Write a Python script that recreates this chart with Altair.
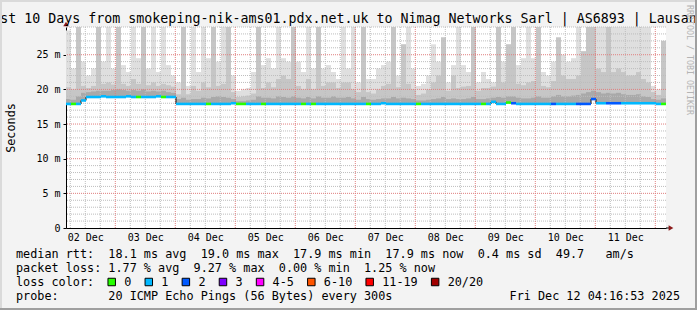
import altair as alt
import pandas as pd

# ---------------- data ----------------
# time in hours since 02 Dec 00:00; graph spans 10 days ending Fri Dec 12 04:16:53
T0 = 4 + 16 / 60 + 53 / 3600
SPAN = 240.0
BIN = 2.0

day_labels = ["02 Dec", "03 Dec", "04 Dec", "05 Dec", "06 Dec",
              "07 Dec", "08 Dec", "09 Dec", "10 Dec", "11 Dec"]

median_rtt = [
    17.9, 17.9, 17.9, 18.4, 18.9, 18.9, 18.9, 19.0, 18.9, 18.9, 18.9, 18.9, 19.0, 18.9, 18.9, 18.9, 18.9, 18.9, 19.0, 18.9,
    18.9, 18.9, 17.9, 17.9, 17.9, 17.9, 17.9, 17.9, 17.9, 17.9, 17.9, 17.9, 17.9, 18.0, 17.9, 17.9, 17.9, 17.9, 17.9, 17.9,
    17.9, 17.9, 17.9, 17.9, 17.9, 17.9, 17.9, 17.9, 17.9, 17.9, 17.9, 17.9, 17.9, 17.9, 17.9, 17.9, 17.9, 17.9, 17.9, 17.9,
    17.9, 17.9, 17.9, 18.0, 17.9, 17.9, 17.9, 17.9, 17.9, 17.9, 17.9, 17.9, 17.9, 17.9, 17.9, 17.9, 17.9, 17.9, 17.9, 17.9,
    17.9, 17.9, 17.9, 17.9, 17.9, 18.2, 17.9, 17.9, 18.1, 18.0, 17.9, 17.9, 17.9, 17.9, 17.9, 17.9, 17.9, 17.9, 17.9, 17.9,
    17.9, 17.9, 17.9, 17.9, 17.9, 18.6, 18.0, 18.0, 18.0, 18.0, 18.0, 18.0, 18.0, 18.0, 18.0, 18.0, 18.0, 18.0, 17.9, 17.9,
]

loss_count = [
    1, 0, 1, 1, 1, 1, 1, 1, 1, 1, 1, 1, 1, 1, 0, 1, 1, 1, 1, 0,
    1, 1, 1, 1, 1, 1, 1, 1, 0, 1, 1, 1, 1, 1, 0, 0, 1, 1, 1, 0,
    1, 1, 1, 1, 1, 1, 1, 0, 1, 0, 1, 1, 1, 1, 1, 1, 1, 1, 1, 1,
    0, 1, 1, 1, 1, 1, 1, 1, 1, 1, 0, 1, 1, 1, 1, 1, 1, 1, 1, 1,
    1, 1, 1, 0, 1, 1, 1, 1, 0, 2, 1, 1, 1, 1, 1, 1, 1, 2, 1, 1,
    1, 1, 2, 2, 2, 2, 1, 1, 2, 2, 2, 1, 1, 1, 1, 1, 1, 1, 1, 0,
]

smoke_upper = [
    28.5, 23.0, 29.5, 24.0, 22.0, 23.0, 29.5, 24.0, 29.0, 23.0, 29.5, 23.5, 22.5, 29.5, 24.5, 29.5, 23.0, 29.5, 22.5, 29.0,
    23.5, 22.0, 21.0, 29.5, 20.5, 29.5, 22.5, 29.5, 24.5, 29.5, 24.0, 29.5, 29.5, 22.0, 19.8, 20.0, 20.2, 22.5, 29.5, 23.5,
    24.5, 23.0, 29.5, 24.5, 24.0, 29.5, 24.0, 22.5, 29.5, 23.0, 29.5, 23.0, 23.5, 22.5, 21.5, 29.5, 23.0, 29.5, 21.0, 29.5,
    21.5, 21.5, 23.0, 23.5, 24.0, 29.5, 22.0, 26.5, 29.5, 23.0, 20.5, 20.8, 22.0, 26.5, 24.0, 27.5, 21.0, 23.5, 29.5, 23.5,
    22.5, 29.5, 21.0, 22.5, 21.5, 21.0, 29.5, 24.0, 26.5, 29.5, 23.5, 24.5, 29.5, 24.5, 29.5, 22.5, 22.0, 24.0, 27.5, 25.0,
    24.0, 24.5, 29.5, 25.5, 29.5, 29.5, 29.5, 29.5, 29.5, 29.5, 29.5, 29.5, 29.5, 29.5, 29.5, 29.5, 29.5, 20.5, 20.0, 27.0,
]

smoke_middle = [
    20.3, 20.0, 29.5, 20.5, 20.2, 20.5, 29.5, 20.8, 21.0, 20.7, 29.5, 20.8, 20.5, 21.5, 20.8, 29.5, 20.6, 21.0, 20.5, 20.8,
    20.6, 20.4, 19.3, 29.5, 19.3, 20.5, 19.8, 21.0, 20.3, 29.5, 20.5, 20.8, 29.0, 19.6, 18.9, 19.0, 19.1, 19.4, 29.5, 20.2,
    21.0, 20.3, 21.5, 22.0, 21.5, 29.5, 20.5, 20.0, 21.5, 20.0, 29.5, 20.5, 21.0, 21.0, 20.2, 21.0, 21.0, 20.0, 19.6, 29.5,
    19.6, 19.4, 20.0, 20.5, 20.8, 29.5, 20.3, 26.5, 20.8, 20.0, 19.2, 19.4, 20.0, 21.0, 22.0, 27.5, 19.8, 22.0, 20.2, 20.4,
    20.5, 29.5, 19.8, 20.2, 20.2, 20.4, 29.5, 21.0, 26.5, 29.5, 20.8, 20.6, 21.0, 21.2, 29.5, 20.5, 20.3, 21.2, 27.5, 22.0,
    21.5, 21.5, 22.0, 25.5, 29.5, 29.5, 23.0, 22.5, 29.5, 22.5, 23.0, 22.5, 22.0, 22.0, 22.5, 21.5, 21.0, 19.6, 19.2, 27.0,
]

smoke_inner = [
    18.6, 18.5, 19.0, 19.5, 19.6, 19.7, 19.8, 19.8, 19.8, 19.9, 20.0, 19.9, 19.8, 19.9, 19.8, 20.0, 19.7, 19.8, 19.7, 19.8,
    19.6, 19.5, 18.6, 18.8, 18.5, 18.6, 18.6, 18.8, 18.7, 18.9, 19.0, 18.9, 18.8, 18.6, 18.3, 18.3, 18.4, 18.5, 19.0, 18.8,
    18.8, 18.7, 19.0, 18.9, 18.8, 19.0, 18.8, 18.7, 18.9, 18.7, 19.0, 18.8, 18.8, 19.0, 18.8, 18.8, 18.9, 18.7, 18.5, 18.9,
    18.6, 18.5, 18.6, 18.7, 18.7, 18.9, 18.7, 18.8, 18.7, 18.6, 18.4, 18.4, 18.5, 18.6, 18.7, 18.9, 18.6, 18.7, 18.6, 18.6,
    18.7, 18.9, 18.6, 18.6, 18.7, 18.8, 18.9, 18.8, 19.0, 19.0, 18.8, 18.7, 18.7, 18.8, 19.0, 18.8, 18.8, 19.0, 19.2, 19.0,
    19.0, 19.1, 19.2, 19.4, 19.6, 19.8, 19.6, 19.4, 19.5, 19.4, 19.5, 19.3, 19.2, 19.2, 19.3, 19.0, 18.9, 18.6, 18.5, 18.7,
]

loss_labels = ["0", "1", "2", "3", "4-5", "6-10", "11-19", "20/20"]
loss_colors = ["#26ff00", "#00b8ff", "#0059ff", "#7e00ff",
               "#ff00ff", "#ff5500", "#ff0000", "#a10000"]

title_text = ("Last 10 Days from smokeping-nik-ams01.pdx.net.uk to "
              "Nimag Networks Sarl | AS6893 | Lausanne")
line_rtt = "median rtt:  18.1 ms avg  19.0 ms max  17.9 ms min  17.9 ms now  0.4 ms sd  49.7   am/s"
line_loss = "packet loss: 1.77 % avg  9.27 % max  0.00 % min  1.25 % now"
line_color = "loss color:"
line_probe = "probe:       20 ICMP Echo Pings (56 Bytes) every 300s"
line_date = "Fri Dec 12 04:16:53 2025"
credit = "RRDTOOL / TOBI OETIKER"

# ---------------- build tables ----------------
def bucket(n):
    if n <= 3:
        return str(n)
    if n <= 5:
        return "4-5"
    if n <= 10:
        return "6-10"
    if n <= 19:
        return "11-19"
    return "20/20"

times = [T0 + BIN * i for i in range(len(median_rtt))]
df = pd.DataFrame({
    "t": times,
    "t_end": [t + BIN for t in times],
    "median": median_rtt,
    "loss": [bucket(n) for n in loss_count],
    "upper": smoke_upper,
    "middle": smoke_middle,
    "inner": smoke_inner,
})

T_END = T0 + SPAN
YMAX = 29
MONO = "DejaVu Sans Mono"
NB = "\u00a0"
CHAR = 7.09          # advance of one legend character (px)

minor_y = [v for v in range(1, YMAX + 1) if v % 5 != 0]
major_y = [v for v in range(5, YMAX + 1, 5)]
minor_x = [h for h in range(6, int(T_END) + 1, 6) if h % 24 != 0 and h > T0]
major_x = [h for h in range(24, int(T_END) + 1, 24)]
noon_x = [12 + 24 * k for k in range(len(day_labels))]

x_scale = alt.Scale(domain=[T0, T_END], nice=False, zero=False)
y_scale = alt.Scale(domain=[0, YMAX], nice=False, zero=False)
loss_scale = alt.Scale(domain=loss_labels, range=loss_colors)

# nested conditional label expression built from the day label list
x_label_expr = "''"
for k in range(len(day_labels) - 1, -1, -1):
    x_label_expr = "datum.value < %d ? '%s' : (%s)" % (24 * (k + 1), day_labels[k], x_label_expr)
y_label_expr = "datum.value == 0 ? '0" + NB + NB + "' : datum.value + '" + NB + "m'"

x_axis = alt.Axis(values=noon_x, labelExpr=x_label_expr, ticks=False, grid=False,
                  domainColor="black", domainWidth=1, labelFont=MONO, labelFontSize=10,
                  labelColor="black", labelBaseline="alphabetic", labelPadding=12,
                  labelFlush=False, labelOverlap=False, title=None)
y_axis = alt.Axis(values=[0] + major_y, labelExpr=y_label_expr, tickSize=3,
                  tickColor="black", domainColor="black", domainWidth=1, grid=False,
                  labelFont=MONO, labelFontSize=10, labelColor="black", labelPadding=3,
                  labelBaseline="middle", labelFlush=False,
                  title="Seconds", titleFont=MONO, titleFontSize=11.8, titleFontWeight="normal",
                  titleColor="black", titleX=-56, titleY=100.5,
                  titleAlign="center", titleBaseline="middle")

base = alt.Chart(df)

smoke_up = base.mark_rect(color="#dfdfdf", clip=True).encode(
    x=alt.X("t:Q", scale=x_scale, axis=x_axis),
    x2="t_end:Q",
    y=alt.Y("upper:Q", scale=y_scale, axis=y_axis),
    y2="median:Q",
)
smoke_mid = base.mark_rect(color="#c6c6c6", clip=True).encode(
    x=alt.X("t:Q"), x2="t_end:Q", y=alt.Y("middle:Q"), y2="median:Q",
)
smoke_in = base.mark_rect(color="#a9a9a9", clip=True).encode(
    x=alt.X("t:Q"), x2="t_end:Q", y=alt.Y("inner:Q"), y2="median:Q",
)

grid_minor_y = alt.Chart(pd.DataFrame({"upper": minor_y})).mark_rule(
    color="#bdbdbd", strokeDash=[1, 1], strokeWidth=1).encode(y=alt.Y("upper:Q"))
grid_minor_x = alt.Chart(pd.DataFrame({"t": minor_x})).mark_rule(
    color="#bdbdbd", strokeDash=[1, 1], strokeWidth=1).encode(x=alt.X("t:Q"))
grid_major_y = alt.Chart(pd.DataFrame({"upper": major_y})).mark_rule(
    color="#e07f7f", strokeDash=[1, 1], strokeWidth=1).encode(y=alt.Y("upper:Q"))
grid_major_x = alt.Chart(pd.DataFrame({"t": major_x})).mark_rule(
    color="#e07f7f", strokeDash=[1, 1], strokeWidth=1).encode(x=alt.X("t:Q"))

step_line = base.mark_line(interpolate="step-after", color="#111111", strokeWidth=1).encode(
    x=alt.X("t:Q"), y=alt.Y("median:Q"))
median_line = base.mark_rule(strokeWidth=2.6).encode(
    x=alt.X("t:Q"), x2="t_end:Q", y=alt.Y("median:Q"),
    color=alt.Color("loss:N", scale=loss_scale, legend=None),
)

# hand-laid legend of loss colours: entry advance follows label length
leg_x = []
pos = 111.7 - 66
for lab in loss_labels:
    leg_x.append(pos)
    pos += 30 + CHAR * len(lab)
leg_df = pd.DataFrame({"loss": loss_labels, "px": leg_x})
leg_df["tx"] = leg_df["px"] + 12.5
LEG_Y = 255
legend_boxes = alt.Chart(leg_df).mark_square(
    filled=True, size=56, stroke="black", strokeWidth=1, opacity=1).encode(
    x=alt.X("px:Q", scale=None), y=alt.value(LEG_Y),
    color=alt.Color("loss:N", scale=loss_scale, legend=None))
legend_text = alt.Chart(leg_df).mark_text(
    align="left", baseline="middle", font=MONO, fontSize=11.8, color="black").encode(
    x=alt.X("tx:Q", scale=None), y=alt.value(LEG_Y), text="loss:N")

arrows_df = pd.DataFrame({"t": [T0], "upper": [YMAX]})
arrow_up = alt.Chart(arrows_df).mark_point(
    shape="triangle-up", filled=True, color="#8b1a1a", size=30, opacity=1, yOffset=-3).encode(
    x=alt.X("t:Q"), y=alt.Y("upper:Q"))
xend_df = pd.DataFrame({"t": [T_END], "upper": [0]})
axis_ext = alt.Chart(xend_df).mark_rule(color="black", strokeWidth=1, x2Offset=3).encode(
    x=alt.X("t:Q"), x2="t:Q", y=alt.Y("upper:Q"))
arrow_right = alt.Chart(xend_df).mark_point(
    shape="triangle-right", filled=True, color="#8b1a1a", size=30, opacity=1, xOffset=5).encode(
    x=alt.X("t:Q"), y=alt.Y("upper:Q"))


def text_layer(s, x, y, size=11.8, align="left", color="black", angle=0, baseline="middle"):
    return alt.Chart(pd.DataFrame({"s": [s.replace(" ", NB)]})).mark_text(
        align=align, baseline=baseline, font=MONO, fontSize=size, color=color, angle=angle).encode(
        text="s:N", x=alt.value(x), y=alt.value(y))


title_layer = text_layer(title_text, 282.5, -4, size=13.3, align="center", baseline="alphabetic")
rtt_layer = text_layer(line_rtt, -50, 227)
loss_layer = text_layer(line_loss, -50, 241)
color_layer = text_layer(line_color, -50, 255)
probe_layer = text_layer(line_probe, -50, 269)
date_layer = text_layer(line_date, 614, 269, align="right")
credit_layer = text_layer(credit, 622.5, -22, size=8.3, color="#b4b4b4", angle=90)

one = pd.DataFrame({"k": [0]})
frame_top = alt.Chart(one).mark_rule(color="#dadada", strokeWidth=2).encode(
    x=alt.value(-66), x2=alt.value(631), y=alt.value(-26))
frame_left = alt.Chart(one).mark_rule(color="#dadada", strokeWidth=2).encode(
    x=alt.value(-65), y=alt.value(-27), y2=alt.value(283))
frame_bottom = alt.Chart(one).mark_rule(color="#9f9f9f", strokeWidth=2).encode(
    x=alt.value(-66), x2=alt.value(631), y=alt.value(282))
frame_right = alt.Chart(one).mark_rule(color="#9f9f9f", strokeWidth=2).encode(
    x=alt.value(630), y=alt.value(-27), y2=alt.value(283))

chart = alt.layer(
    smoke_up, smoke_mid, smoke_in,
    grid_minor_y, grid_minor_x, grid_major_y, grid_major_x,
    step_line, median_line,
    legend_boxes, legend_text,
    axis_ext, arrow_up, arrow_right,
    title_layer, rtt_layer, loss_layer, color_layer, probe_layer, date_layer, credit_layer,
    frame_top, frame_left, frame_bottom, frame_right,
).properties(
    width=600, height=201,
    autosize=alt.AutoSizeParams(type="none"),
    padding={"left": 66, "top": 27, "right": 31, "bottom": 82},
    background="#f3f3f3",
).configure_view(fill="white", stroke=None)

chart.save("out.html", embed_options={"renderer": "svg", "actions": False})
